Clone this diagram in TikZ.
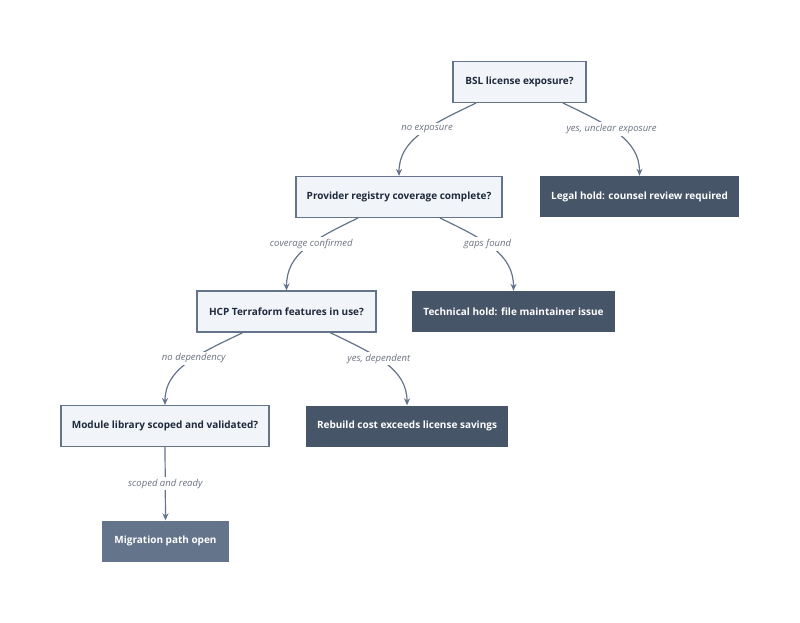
\documentclass[tikz,border=0pt]{standalone}
\usepackage{fontspec}
\setmainfont{Open Sans}
\usetikzlibrary{arrows.meta}
\definecolor{qfill}{HTML}{F1F4F9}
\definecolor{qborder}{HTML}{64748B}
\definecolor{darkfill}{HTML}{475569}
\definecolor{midfill}{HTML}{64748B}
\definecolor{edgecol}{HTML}{64748B}
\definecolor{qtext}{HTML}{1E293B}
\definecolor{lbltext}{HTML}{6B7280}
\tikzset{
  qbox/.style={draw=qborder, line width=1.1pt, fill=qfill, text=qtext, font=\fontsize{10}{12}\selectfont\bfseries, minimum height=41pt, inner sep=0pt},
  holdbox/.style={fill=darkfill, text=white, font=\fontsize{10}{12}\selectfont\bfseries, minimum height=41pt, inner sep=0pt},
  goalbox/.style={fill=midfill, text=white, font=\fontsize{10}{12}\selectfont\bfseries, minimum height=41pt, inner sep=0pt},
  conn/.style={draw=edgecol, line width=1.2pt, -{Stealth[length=7pt,width=6pt]}},
  lbl/.style={fill=white, text=lbltext, font=\fontsize{9.5}{11}\selectfont\itshape, inner sep=2pt}
}
\begin{document}
\begin{tikzpicture}[x=1pt,y=-1pt]
\useasboundingbox[fill=white] (0,0) rectangle (800,623);
\node[qbox, minimum width=133pt] (bsl) at (519.5,82) {BSL license exposure?};
\node[holdbox, minimum width=199pt] (legal) at (639.5,196.5) {Legal hold: counsel review required};
\node[qbox, minimum width=206pt] (prov) at (399,197) {Provider registry coverage complete?};
\node[holdbox, minimum width=203pt] (tech) at (513.5,311.5) {Technical hold: file maintainer issue};
\node[qbox, minimum width=179pt] (hcp) at (286.5,311.5) {HCP Terraform features in use?};
\node[holdbox, minimum width=202pt] (rebuild) at (407,426) {Rebuild cost exceeds license savings};
\node[qbox, minimum width=208pt] (module) at (165,426) {Module library scoped and validated?};
\node[goalbox, minimum width=127pt] (migr) at (165.5,541) {Migration path open};

\draw[conn] ([xshift=-43.5pt]bsl.south) .. controls +(-46,22) and +(0,-36) .. (prov.north) node[lbl, pos=0.42] {no exposure};
\draw[conn] ([xshift=43.5pt]bsl.south) .. controls +(46,22) and +(0,-36) .. (legal.north) node[lbl, pos=0.42] {yes, unclear exposure};
\draw[conn] ([xshift=-41pt]prov.south) .. controls +(-46,22) and +(0,-36) .. (hcp.north) node[lbl, pos=0.42] {coverage confirmed};
\draw[conn] ([xshift=41pt]prov.south) .. controls +(46,22) and +(0,-36) .. (tech.north) node[lbl, pos=0.42] {gaps found};
\draw[conn] ([xshift=-43.5pt]hcp.south) .. controls +(-46,22) and +(0,-36) .. (module.north) node[lbl, pos=0.42] {no dependency};
\draw[conn] ([xshift=43.5pt]hcp.south) .. controls +(46,22) and +(0,-36) .. (rebuild.north) node[lbl, pos=0.42] {yes, dependent};
\draw[conn] (module.south) -- (migr.north) node[lbl, pos=0.5] {scoped and ready};
\end{tikzpicture}
\end{document}
